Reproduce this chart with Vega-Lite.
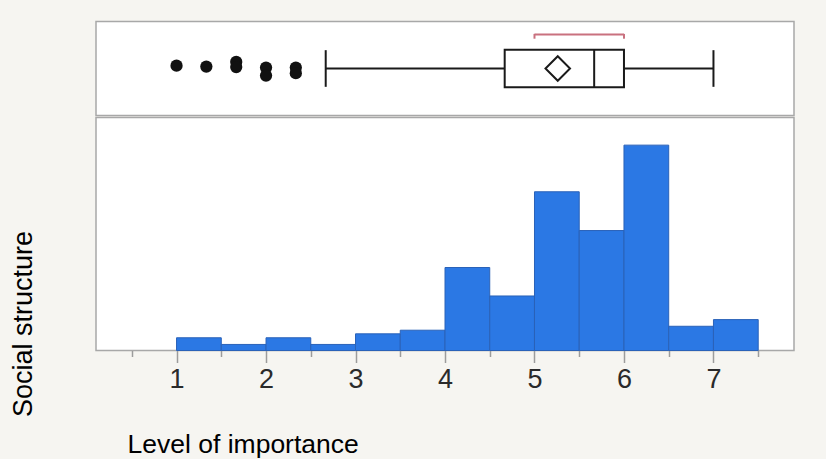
{
  "$schema": "https://vega.github.io/schema/vega-lite/v6.json",
  "background": "#f6f5f1",
  "padding": {"left": 8, "top": 20.5, "right": 32, "bottom": 3},
  "config": {
    "font": "Liberation Sans",
    "view": {"stroke": "#a8a8a8", "strokeWidth": 1.5, "fill": "#ffffff"}
  },
  "datasets": {
    "summary": [
      {"low_whisker": 2.667, "q1": 4.667, "median": 5.667, "q3": 6.0, "high_whisker": 7.0, "mean": 5.26, "shortest_half_low": 5.0, "shortest_half_high": 6.0}
    ],
    "outliers": [
      {"score": 1.0, "jitter": 0.06},
      {"score": 1.333, "jitter": 0.04},
      {"score": 1.667, "jitter": 0.14},
      {"score": 1.667, "jitter": 0.03},
      {"score": 2.0, "jitter": 0.02},
      {"score": 2.0, "jitter": -0.15},
      {"score": 2.333, "jitter": 0.02},
      {"score": 2.333, "jitter": -0.1}
    ],
    "bins": [
      {"bin_start": 1.0, "bin_end": 1.5, "count": 2.1},
      {"bin_start": 1.5, "bin_end": 2.0, "count": 1.0},
      {"bin_start": 2.0, "bin_end": 2.5, "count": 2.1},
      {"bin_start": 2.5, "bin_end": 3.0, "count": 1.0},
      {"bin_start": 3.0, "bin_end": 3.5, "count": 2.75},
      {"bin_start": 3.5, "bin_end": 4.0, "count": 3.35},
      {"bin_start": 4.0, "bin_end": 4.5, "count": 13.7},
      {"bin_start": 4.5, "bin_end": 5.0, "count": 9.0},
      {"bin_start": 5.0, "bin_end": 5.5, "count": 26.2},
      {"bin_start": 5.5, "bin_end": 6.0, "count": 19.8},
      {"bin_start": 6.0, "bin_end": 6.5, "count": 33.9},
      {"bin_start": 6.5, "bin_end": 7.0, "count": 4.0},
      {"bin_start": 7.0, "bin_end": 7.5, "count": 5.1}
    ]
  },
  "spacing": 0,
  "vconcat": [
    {
      "width": 698,
      "height": 94,
      "layer": [
        {
          "data": {"name": "summary"},
          "mark": {"type": "rule", "color": "#1a1a1a", "strokeWidth": 2},
          "encoding": {
            "x": {"field": "low_whisker", "type": "quantitative", "scale": {"domain": [0.1, 7.9], "nice": false, "zero": false}, "axis": null},
            "x2": {"field": "q1"},
            "y": {"datum": 0, "type": "quantitative", "scale": {"domain": [-1, 1], "nice": false}, "axis": null}
          }
        },
        {
          "data": {"name": "summary"},
          "mark": {"type": "rule", "color": "#1a1a1a", "strokeWidth": 2},
          "encoding": {
            "x": {"field": "q3", "type": "quantitative"},
            "x2": {"field": "high_whisker"},
            "y": {"datum": 0, "type": "quantitative"}
          }
        },
        {
          "data": {"name": "summary"},
          "mark": {"type": "rule", "color": "#1a1a1a", "strokeWidth": 2},
          "encoding": {
            "x": {"field": "low_whisker", "type": "quantitative"},
            "y": {"datum": -0.39, "type": "quantitative"},
            "y2": {"datum": 0.39}
          }
        },
        {
          "data": {"name": "summary"},
          "mark": {"type": "rule", "color": "#1a1a1a", "strokeWidth": 2},
          "encoding": {
            "x": {"field": "high_whisker", "type": "quantitative"},
            "y": {"datum": -0.39, "type": "quantitative"},
            "y2": {"datum": 0.39}
          }
        },
        {
          "data": {"name": "summary"},
          "mark": {"type": "rect", "fill": "#ffffff", "fillOpacity": 0, "stroke": "#1a1a1a", "strokeWidth": 2},
          "encoding": {
            "x": {"field": "q1", "type": "quantitative"},
            "x2": {"field": "q3"},
            "y": {"datum": -0.4, "type": "quantitative"},
            "y2": {"datum": 0.4}
          }
        },
        {
          "data": {"name": "summary"},
          "mark": {"type": "rule", "color": "#1a1a1a", "strokeWidth": 2},
          "encoding": {
            "x": {"field": "median", "type": "quantitative"},
            "y": {"datum": -0.4, "type": "quantitative"},
            "y2": {"datum": 0.4}
          }
        },
        {
          "data": {"name": "summary"},
          "mark": {"type": "point", "shape": "diamond", "size": 600, "filled": false, "stroke": "#1a1a1a", "strokeWidth": 2, "opacity": 1},
          "encoding": {
            "x": {"field": "mean", "type": "quantitative"},
            "y": {"datum": 0, "type": "quantitative"}
          }
        },
        {
          "data": {"name": "summary"},
          "mark": {"type": "rule", "color": "#c9717f", "strokeWidth": 2},
          "encoding": {
            "x": {"field": "shortest_half_low", "type": "quantitative"},
            "x2": {"field": "shortest_half_high"},
            "y": {"datum": 0.726, "type": "quantitative"}
          }
        },
        {
          "data": {"name": "summary"},
          "mark": {"type": "rule", "color": "#c9717f", "strokeWidth": 2},
          "encoding": {
            "x": {"field": "shortest_half_low", "type": "quantitative"},
            "y": {"datum": 0.634, "type": "quantitative"},
            "y2": {"datum": 0.736}
          }
        },
        {
          "data": {"name": "summary"},
          "mark": {"type": "rule", "color": "#c9717f", "strokeWidth": 2},
          "encoding": {
            "x": {"field": "shortest_half_high", "type": "quantitative"},
            "y": {"datum": 0.634, "type": "quantitative"},
            "y2": {"datum": 0.736}
          }
        },
        {
          "data": {"name": "outliers"},
          "mark": {"type": "circle", "size": 150, "color": "#111111", "opacity": 1},
          "encoding": {
            "x": {"field": "score", "type": "quantitative"},
            "y": {"field": "jitter", "type": "quantitative"}
          }
        }
      ]
    },
    {
      "width": 698,
      "height": 233,
      "data": {"name": "bins"},
      "layer": [
        {
          "mark": {"type": "rect", "color": "#2b78e4", "stroke": "#2a62b8", "strokeWidth": 1},
          "encoding": {
            "x": {
              "field": "bin_start",
              "type": "quantitative",
              "scale": {"domain": [0.1, 7.9], "nice": false, "zero": false},
              "axis": {
                "orient": "bottom",
                "values": [1, 2, 3, 4, 5, 6, 7],
                "format": "d",
                "domain": false,
                "grid": false,
                "tickSize": 12,
                "tickColor": "#9c9c9c",
                "tickWidth": 1.5,
                "labelFontSize": 27,
                "labelColor": "#2a2a2a",
                "labelPadding": 4,
                "labelFlush": false,
                "title": "Level of importance",
                "titleFontSize": 26.5,
                "titleFontWeight": "normal",
                "titleColor": "#000000",
                "titleAlign": "left",
                "titleAnchor": "start",
                "titleBaseline": "alphabetic",
                "titleX": 31,
                "titleY": 102
              }
            },
            "x2": {"field": "bin_end"},
            "y": {
              "field": "count",
              "type": "quantitative",
              "scale": {"domain": [0, 38.46], "nice": false},
              "axis": {
                "title": "Social structure",
                "domain": false,
                "ticks": false,
                "labels": false,
                "grid": false,
                "titleFontSize": 27,
                "titleFontWeight": "normal",
                "titleColor": "#000000",
                "titleX": -59,
                "titleY": 206
              }
            },
            "y2": {"datum": 0}
          }
        },
        {
          "mark": {"type": "rule", "opacity": 0},
          "encoding": {
            "x": {
              "field": "bin_start",
              "type": "quantitative",
              "axis": {
                "orient": "bottom",
                "values": [0.5, 1.5, 2.5, 3.5, 4.5, 5.5, 6.5, 7.5],
                "domain": false,
                "grid": false,
                "labels": false,
                "tickSize": 6,
                "tickColor": "#9c9c9c",
                "tickWidth": 1.5,
                "title": null
              }
            }
          }
        }
      ],
      "resolve": {"axis": {"x": "independent"}}
    }
  ]
}
